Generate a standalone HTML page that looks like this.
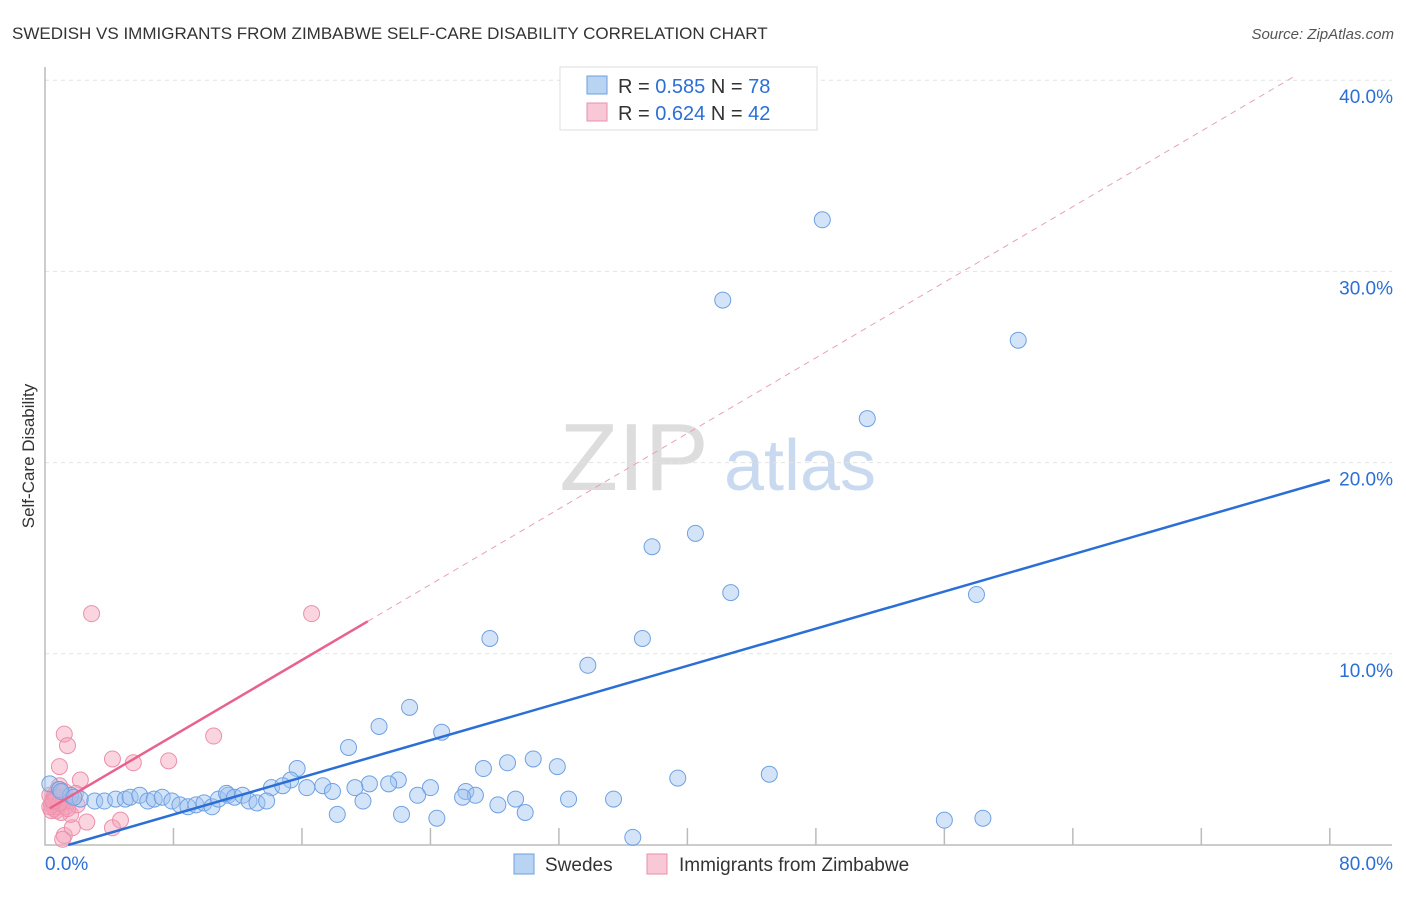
<!DOCTYPE html>
<html><head><meta charset="utf-8"><style>
body{margin:0;background:#fff;font-family:"Liberation Sans",sans-serif}
svg text{font-family:"Liberation Sans",sans-serif}
</style></head><body>
<svg id="c" width="1406" height="892" xmlns="http://www.w3.org/2000/svg">
<text x="12" y="39" font-size="17" fill="#333">SWEDISH VS IMMIGRANTS FROM ZIMBABWE SELF-CARE DISABILITY CORRELATION CHART</text>
<text x="1394" y="39" font-size="15" fill="#555" font-style="italic" text-anchor="end">Source: ZipAtlas.com</text>
<text x="34" y="456" font-size="17" fill="#333" text-anchor="middle" transform="rotate(-90 34 456)">Self-Care Disability</text>
<g><text x="634" y="490" font-size="96" fill="#ddd" font-family="Liberation Serif" text-anchor="middle">ZIP</text><text x="800" y="490" font-size="72" fill="#c9daf0" text-anchor="middle">atlas</text></g>
<g id="grid"></g><g id="axes"></g><g id="pts"></g><g id="lines"></g>
<g>
<rect x="560" y="67" width="257" height="63" fill="#fff" stroke="#ddd"/>
<rect x="587" y="76" width="20" height="18" fill="#b9d3f3" stroke="#6b9fe0"/>
<rect x="587" y="103" width="20" height="18" fill="#f9c8d6" stroke="#ea8fab"/>
<text x="618" y="93" font-size="20" fill="#333">R = <tspan fill="#2b6fd6">0.585</tspan>   N = <tspan fill="#2b6fd6">78</tspan></text>
<text x="618" y="120" font-size="20" fill="#333">R = <tspan fill="#2b6fd6">0.624</tspan>   N = <tspan fill="#2b6fd6">42</tspan></text>
</g>
<g>
<rect x="514" y="854" width="20" height="20" fill="#b9d3f3" stroke="#6b9fe0"/>
<text x="545" y="871" font-size="19" fill="#333">Swedes</text>
<rect x="647" y="854" width="20" height="20" fill="#f9c8d6" stroke="#ea8fab"/>
<text x="679" y="871" font-size="19" fill="#333">Immigrants from Zimbabwe</text>
</g>
</svg>
<script>
const blueX=[48.4,42.2,60.6,51.2,37.8,40.5,42.7,58.0,27.7,37.2,33.8,22.7,20.8,24.7,18.9,30.4,28.8,31.9,27.3,45.1,39.4,15.7,15.3,22.0,21.4,20.2,19.3,17.3,24.0,14.1,14.8,16.3,17.9,26.2,26.8,23.2,26.0,19.8,29.3,28.2,32.6,35.4,18.2,22.2,24.4,29.9,36.6,56.0,58.4,0.3,0.9,1.6,2.2,3.1,3.7,4.4,5.0,5.3,5.9,6.4,6.8,7.3,7.9,8.4,8.9,9.4,9.9,10.4,10.8,11.4,11.3,11.8,12.3,12.7,13.2,13.8,1.0,1.8];
const blueY=[32.7,28.5,26.4,22.3,15.6,16.3,13.2,13.1,10.8,10.8,9.4,7.2,6.2,5.9,5.1,4.5,4.3,4.1,4.0,3.7,3.5,4.0,3.4,3.4,3.2,3.2,3.0,3.1,3.0,3.0,3.1,3.0,2.8,2.8,2.6,2.6,2.5,2.3,2.4,2.1,2.4,2.4,1.6,1.6,1.4,1.7,0.4,1.3,1.4,3.2,2.9,2.6,2.4,2.3,2.3,2.4,2.4,2.5,2.6,2.3,2.4,2.5,2.3,2.1,2.0,2.1,2.2,2.0,2.4,2.6,2.7,2.5,2.6,2.3,2.2,2.3,2.8,2.5];
const pinkX=[2.9,16.6,1.2,1.4,10.5,4.2,5.5,7.7,0.9,2.2,2.6,4.2,4.7,1.2,1.7,0.7,1.0,0.6,1.6,0.5,1.3,1.9,0.8,0.9,0.4,0.6,1.1,1.5,0.3,0.5,0.8,1.0,1.2,0.4,0.7,2.0,1.4,0.6,0.9,0.3,0.5,1.1];
const pinkY=[12.1,12.1,5.8,5.2,5.7,4.5,4.3,4.4,4.1,3.4,1.2,0.9,1.3,0.5,0.9,1.8,2.2,2.3,1.6,2.4,2.0,2.7,2.9,3.1,2.1,1.9,2.5,2.3,2.6,2.2,2.0,1.7,2.8,1.8,2.4,2.1,1.9,2.6,2.2,2.0,2.3,0.3];
const yTicks=[10,20,30,40];
const blueFit=[-0.35,0.243];
const pinkFit=[1.77,0.494];
const X=v=>45+v*16.06, Y=v=>845-v*19.12;
const NS="http://www.w3.org/2000/svg";
function mk(p,t,a){const e=document.createElementNS(NS,t);for(const k in a)e.setAttribute(k,a[k]);p.appendChild(e);return e;}
const grid=document.getElementById('grid'),axes=document.getElementById('axes'),pts=document.getElementById('pts'),lines=document.getElementById('lines');
yTicks.forEach(t=>{const l=mk(grid,'line',{x1:45,x2:1392,y1:Y(t),y2:Y(t),stroke:'#e2e2e2','stroke-dasharray':'4,4'});


const tx=mk(axes,'text',{x:1393,y:Y(t)+23,'font-size':19,fill:'#2b6fd6','text-anchor':'end'});tx.textContent=t.toFixed(1)+'%';

});
const ax=mk(axes,'path',{d:'M45 67V845H1392',fill:'none',stroke:'#bbb','stroke-width':1.5});


for(let i=1;i<=10;i++){const t=mk(axes,'line',{x1:X(i*8),x2:X(i*8),y1:828,y2:845,stroke:'#bbb','stroke-width':1.5});

}
[['0.0%',45,'start'],['80.0%',1393,'end']].forEach(([s,x,a])=>{const t=mk(axes,'text',{x:x,y:870,'font-size':19,fill:'#2b6fd6','text-anchor':a});t.textContent=s;

});
pinkX.forEach((v,i)=>{const c=mk(pts,'circle',{cx:X(v),cy:Y(pinkY[i]),r:8,fill:'rgba(244,160,185,0.45)',stroke:'#ec90ab','stroke-width':1});

});
blueX.forEach((v,i)=>{const c=mk(pts,'circle',{cx:X(v),cy:Y(blueY[i]),r:8,fill:'rgba(160,196,240,0.45)',stroke:'#6fa1e2','stroke-width':1});

});
const bx0=-blueFit[0]/blueFit[1];
const bl=mk(lines,'line',{x1:X(bx0),y1:Y(0),x2:X(80),y2:Y(blueFit[0]+blueFit[1]*80),stroke:'#2b6fd6','stroke-width':2.5});


const pl=mk(lines,'line',{x1:X(0.3),y1:Y(pinkFit[0]+pinkFit[1]*0.3),x2:X(20.1),y2:Y(pinkFit[0]+pinkFit[1]*20.1),stroke:'#e8628d','stroke-width':2.5});


const pd=mk(lines,'line',{x1:X(20.1),y1:Y(pinkFit[0]+pinkFit[1]*20.1),x2:X(77.8),y2:Y(pinkFit[0]+pinkFit[1]*77.8),stroke:'#eaa0b6','stroke-width':1,'stroke-dasharray':'6,5'});


</script>
</body></html>
